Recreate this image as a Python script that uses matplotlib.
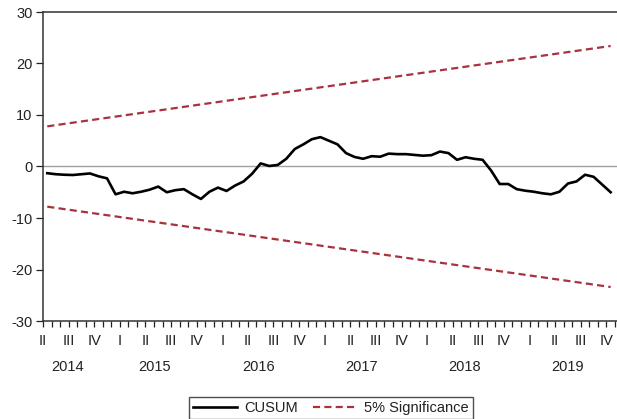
"""
plot.py
-------
Grafik uji stabilitas CUSUM dengan batas signifikansi 5%
(data bulanan 2014M04 - 2019M10), disimpan ke out.png.
"""

import numpy as np
import matplotlib
matplotlib.use("Agg")  # backend non-interaktif
import matplotlib.pyplot as plt
from matplotlib.transforms import blended_transform_factory

# ---- Data ----
cusum = [
    -1.3, -1.5, -1.6, -1.65, -1.5, -1.35, -1.9, -2.3, -5.4, -4.9,
    -5.2, -4.9, -4.5, -3.9, -5.0, -4.6, -4.4, -5.4, -6.3, -4.9,
    -4.1, -4.75, -3.7, -2.9, -1.4, 0.6, 0.1, 0.3, 1.5, 3.4,
    4.3, 5.3, 5.7, 5.0, 4.3, 2.6, 1.85, 1.5, 2.0, 1.9,
    2.5, 2.4, 2.4, 2.25, 2.1, 2.2, 2.9, 2.6, 1.3, 1.8,
    1.5, 1.3, -0.8, -3.4, -3.4, -4.4, -4.7, -4.9, -5.2, -5.4,
    -4.9, -3.3, -2.9, -1.6, -2.0, -3.5, -5.0,
]
batas_awal = 7.8    # batas 5% pada observasi pertama
batas_akhir = 23.4  # batas 5% pada observasi terakhir

label_kuartal = [
    "II", "III", "IV",
    "I", "II", "III", "IV",
    "I", "II", "III", "IV",
    "I", "II", "III", "IV",
    "I", "II", "III", "IV",
    "I", "II", "III", "IV",
]
label_tahun = ["2014", "2015", "2016", "2017", "2018", "2019"]
posisi_tahun = [2.9, 13.1, 25.2, 37.3, 49.4, 61.5]  # dalam bulan sejak 2014M04

# ---- Gaya ----
plt.rcParams["font.family"] = ["Liberation Sans", "DejaVu Sans"]
plt.rcParams["axes.unicode_minus"] = False
WARNA_TEKS = "#222222"
WARNA_BATAS = "#a8323e"
UKURAN = 10.5

W, H = 617, 419
fig = plt.figure(figsize=(W / 100, H / 100), dpi=100)

# sumbu sengaja melebar melewati tepi kanan gambar (seperti pada referensi)
kiri, atas, bawah = 43, 12, 321
lebar = 589
ax = fig.add_axes([kiri / W, 1 - bawah / H, lebar / W, (bawah - atas) / H])

x = np.arange(len(cusum)) + 0.5  # observasi di tengah bulan
x_batas = [x[0], x[-1]]

ax.axhline(0, color="#a0a0a0", linewidth=1.0, zorder=1)
ax.plot(x, cusum, color="black", linewidth=1.9, label="CUSUM", zorder=3,
        solid_joinstyle="round")
ax.plot(x_batas, [batas_awal, batas_akhir], color=WARNA_BATAS,
        linewidth=1.6, dashes=(3.2, 1.9), label="5% Significance", zorder=2)
ax.plot(x_batas, [-batas_awal, -batas_akhir], color=WARNA_BATAS,
        linewidth=1.6, dashes=(3.2, 1.9), zorder=2)

ax.set_xlim(0, 69)
ax.set_ylim(-30, 30)

# sumbu y
ax.set_yticks([-30, -20, -10, 0, 10, 20, 30])
ax.tick_params(axis="y", direction="out", length=5, width=0.9, pad=2.5,
               labelsize=UKURAN, colors=WARNA_TEKS)

# sumbu x: tick bulanan, label kuartal
ax.set_xticks(np.arange(0, 3 * len(label_kuartal), 3))
ax.set_xticklabels(label_kuartal)
ax.set_xticks(np.arange(0, 70, 1), minor=True)
ax.tick_params(axis="x", which="both", direction="out", length=4, width=0.9,
               colors=WARNA_TEKS)
ax.tick_params(axis="x", which="major", pad=5, labelsize=UKURAN)

trans = blended_transform_factory(ax.transData, ax.transAxes)
y_tahun = (bawah - 367) / (bawah - atas)
for pos, teks in zip(posisi_tahun, label_tahun):
    ax.text(pos, y_tahun, teks, transform=trans, ha="center", va="center",
            fontsize=UKURAN, color=WARNA_TEKS, clip_on=False)

for sisi in ["left", "top", "bottom", "right"]:
    ax.spines[sisi].set_color("#333333")
    ax.spines[sisi].set_linewidth(1.1)

# legenda di bawah grafik
leg = fig.legend(loc="center", bbox_to_anchor=(331 / W, 1 - 408 / H),
                 ncol=2, fontsize=UKURAN, frameon=True, fancybox=False,
                 handlelength=3.0, handletextpad=0.5, columnspacing=1.0,
                 borderpad=0.3)
leg.get_frame().set_edgecolor("#222222")
leg.get_frame().set_linewidth(1.0)
for t in leg.get_texts():
    t.set_color(WARNA_TEKS)

fig.savefig("out.png", dpi=100)
plt.close(fig)
